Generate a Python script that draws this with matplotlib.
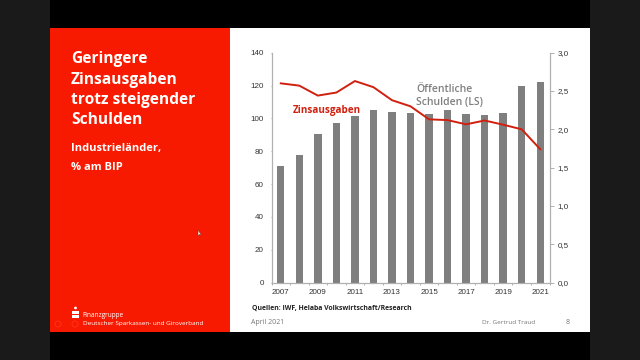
import matplotlib
matplotlib.use("Agg")
import matplotlib.pyplot as plt
from matplotlib.patches import Rectangle, Circle, Polygon

import numpy as np

years = [2007, 2008, 2009, 2010, 2011, 2012, 2013, 2014, 2015, 2016, 2017, 2018, 2019, 2020, 2021]
schulden = [71.0, 77.5, 90.7, 97.2, 101.2, 105.3, 103.9, 103.5, 102.9, 105.1, 102.9, 102.2, 103.5, 119.9, 122.1]
zinsausgaben = [2.60, 2.57, 2.44, 2.48, 2.63, 2.55, 2.38, 2.30, 2.13, 2.12, 2.065, 2.115, 2.06, 2.00, 1.74]
left_ticks = [0, 20, 40, 60, 80, 100, 120, 140]
right_ticks = [0.0, 0.5, 1.0, 1.5, 2.0, 2.5, 3.0]
right_labels = ["0,0", "0,5", "1,0", "1,5", "2,0", "2,5", "3,0"]

W, H = 640, 360
RED = "#f81a00"
LINE_RED = "#d0200f"
GREY = "#7f7f7f"
AXIS = "#b0b0b0"
TEXT = "#333333"
ARIAL = ["Liberation Sans", "DejaVu Sans"]

plt.rcParams["font.family"] = ["Open Sans", "DejaVu Sans"]

fig = plt.figure(figsize=(W / 100, H / 100), dpi=100, facecolor="black")

# slide background, drawn in pixel coordinates (y going down)
bg = fig.add_axes([0, 0, 1, 1])
bg.set_xlim(0, W)
bg.set_ylim(H, 0)
bg.axis("off")
bg.add_patch(Rectangle((0, 0), 50, H, color="#1a1a1a", lw=0))
bg.add_patch(Rectangle((590, 0), 50, H, color="#1a1a1a", lw=0))
bg.add_patch(Rectangle((50, 28), 540, 304, color="white", lw=0))
bg.add_patch(Rectangle((50, 28), 180, 304, color=RED, lw=0))

# left panel
for y, line in zip([59, 80, 100.5, 120.5], ["Geringere", "Zinsausgaben", "trotz steigender", "Schulden"]):
    bg.text(71, y, line, color="white", fontsize=11.2, fontweight="bold", ha="left", va="center")
bg.text(71, 148, "Industrieländer,", color="white", fontsize=8.0, fontweight="bold", ha="left", va="center")
bg.text(71, 167, "% am BIP", color="white", fontsize=8.0, fontweight="bold", ha="left", va="center")

# footer of the panel
bg.add_patch(Circle((75.5, 308), 1.4, color="white", lw=0))
bg.add_patch(Rectangle((72, 310.5), 7, 3, color="white", lw=0))
bg.add_patch(Rectangle((72, 314.8), 7, 3, color="white", lw=0))
bg.text(82.7, 315.7, "Finanzgruppe", color="white", fontsize=4.7, ha="left", va="center")
bg.text(82.7, 323.7, "Deutscher Sparkassen- und Giroverband", color="white", fontsize=4.6, ha="left", va="center")
for cx in [58, 75]:
    bg.add_patch(Circle((cx, 324), 3, fill=False, ec="#ff3a22", lw=0.5))

# mouse pointer
bg.add_patch(Polygon([(198, 230), (198, 236), (199.5, 234.5), (201.5, 235)], fc="#ffe0d8", ec="#802010", lw=0.3))

# footer of the slide
bg.text(252, 308.3, "Quellen: IWF, Helaba Volkswirtschaft/Research", color="#222222", fontsize=4.95,
        fontweight="bold", ha="left", va="center")
bg.text(251, 322, "April 2021", color="#777777", fontsize=5.0, ha="left", va="center")
bg.text(481.5, 323, "Dr. Gertrud Traud", color="#777777", fontsize=4.6, ha="left", va="center")
bg.text(567.5, 323, "8", color="#777777", fontsize=5.0, ha="center", va="center")

# chart
x0, x1, y0, y1 = 271.5, 549.5, 52.7, 282.5
ax = fig.add_axes([x0 / W, 1 - y1 / H, (x1 - x0) / W, (y1 - y0) / H])
ax.patch.set_alpha(0)
pos = np.arange(len(years))
ax.bar(pos, schulden, width=0.4, color=GREY)
ax.set_xlim(-0.5, len(years) - 0.5)
ax.set_ylim(0, 140)
ax.set_yticks(left_ticks)
ax.set_yticklabels(left_ticks, family=ARIAL)
ax.set_xticks(pos[::2])
ax.set_xticklabels(years[::2], family=ARIAL)
ax.set_xticks(np.arange(len(years) + 1) - 0.5, minor=True)
ax.tick_params(axis="x", which="major", length=0, labelsize=5.8, labelcolor=TEXT, pad=5)
ax.tick_params(axis="x", which="minor", length=1.5, color=AXIS, width=0.7)
ax.tick_params(axis="y", length=1, color=AXIS, width=0.7, labelsize=5.8, labelcolor=TEXT, pad=4.5)

ax2 = ax.twinx()
ax2.patch.set_alpha(0)
ax2.plot(pos, zinsausgaben, color=LINE_RED, lw=1.4)
ax2.set_ylim(0, 3)
ax2.set_yticks(right_ticks)
ax2.set_yticklabels(right_labels, family=ARIAL)
ax2.tick_params(axis="y", length=3.2, color=AXIS, width=0.7, labelsize=5.8, labelcolor=TEXT, pad=2.5)

for a in (ax, ax2):
    a.spines["top"].set_visible(False)
    for side in ("left", "right", "bottom"):
        a.spines[side].set_color(AXIS)
        a.spines[side].set_linewidth(0.8)

# direct labels sit on top of the chart
top = fig.add_axes([0, 0, 1, 1])
top.set_xlim(0, W)
top.set_ylim(H, 0)
top.axis("off")
top.text(292.5, 110, "Zinsausgaben", color=LINE_RED, fontsize=7.1, fontweight="bold", ha="left", va="center")
top.text(416, 90, "Öffentliche", color=GREY, fontsize=7.5, fontweight="semibold", ha="left", va="center")
top.text(416, 102.7, "Schulden (LS)", color=GREY, fontsize=7.5, fontweight="semibold", ha="left", va="center")

fig.savefig("out.png", dpi=100, facecolor="black")
